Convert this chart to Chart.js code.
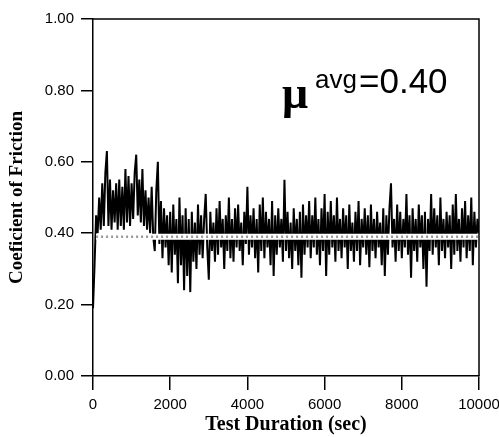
<!DOCTYPE html>
<html>
<head>
<meta charset="utf-8">
<script src="https://cdn.jsdelivr.net/npm/chart.js@4.4.1/dist/chart.umd.min.js"></script>
<style>
  html, body { margin: 0; padding: 0; background: #fff; }
  #frictionChart { display: block; }
</style>
</head>
<body>
<canvas id="frictionChart" width="499" height="437"></canvas>
<script>
// sampled friction trace, one reading every 40 s (0 .. 10000 s)
const sampleInterval = 40;
const frictionValues = [
    0.19, 0.31, 0.45, 0.40, 0.50, 0.41, 0.54, 0.42, 0.57, 0.63,
    0.42, 0.55, 0.41, 0.52, 0.43, 0.54, 0.41, 0.55, 0.42, 0.53,
    0.41, 0.58, 0.43, 0.56, 0.42, 0.54, 0.44, 0.57, 0.62, 0.45,
    0.55, 0.43, 0.58, 0.42, 0.52, 0.41, 0.50, 0.40, 0.53, 0.39,
    0.35, 0.52, 0.60, 0.37, 0.49, 0.33, 0.47, 0.36, 0.45, 0.31,
    0.46, 0.29, 0.48, 0.34, 0.44, 0.26, 0.50, 0.31, 0.45, 0.24,
    0.47, 0.28, 0.44, 0.235, 0.46, 0.32, 0.43, 0.30, 0.48, 0.34,
    0.45, 0.33, 0.44, 0.51, 0.36, 0.27, 0.46, 0.35, 0.43, 0.32,
    0.47, 0.34, 0.49, 0.36, 0.44, 0.30, 0.45, 0.35, 0.50, 0.33,
    0.44, 0.32, 0.47, 0.36, 0.48, 0.35, 0.43, 0.31, 0.46, 0.37,
    0.53, 0.34, 0.45, 0.36, 0.47, 0.33, 0.44, 0.29, 0.48, 0.35,
    0.50, 0.33, 0.46, 0.36, 0.44, 0.31, 0.49, 0.28, 0.45, 0.34,
    0.47, 0.36, 0.44, 0.32, 0.55, 0.35, 0.46, 0.33, 0.43, 0.30,
    0.47, 0.35, 0.44, 0.31, 0.46, 0.275, 0.48, 0.34, 0.45, 0.36,
    0.49, 0.33, 0.45, 0.36, 0.50, 0.34, 0.44, 0.31, 0.47, 0.35,
    0.51, 0.28, 0.46, 0.34, 0.49, 0.36, 0.45, 0.32, 0.50, 0.35,
    0.44, 0.33, 0.47, 0.36, 0.45, 0.30, 0.48, 0.35, 0.43, 0.32,
    0.46, 0.35, 0.49, 0.31, 0.44, 0.36, 0.47, 0.34, 0.45, 0.305,
    0.48, 0.35, 0.44, 0.33, 0.46, 0.36, 0.43, 0.31, 0.47, 0.28,
    0.45, 0.34, 0.47, 0.54, 0.36, 0.44, 0.32, 0.48, 0.35, 0.46,
    0.33, 0.44, 0.36, 0.51, 0.34, 0.45, 0.275, 0.47, 0.35, 0.44,
    0.32, 0.48, 0.36, 0.45, 0.30, 0.46, 0.25, 0.44, 0.35, 0.51,
    0.34, 0.47, 0.36, 0.45, 0.31, 0.50, 0.35, 0.44, 0.33, 0.46,
    0.36, 0.45, 0.30, 0.48, 0.34, 0.51, 0.35, 0.44, 0.32, 0.47,
    0.36, 0.49, 0.33, 0.45, 0.35, 0.50, 0.31, 0.46, 0.36, 0.44,
    0.40
];

// average level band
const avgTimes = [80, 10000];
const avgValues = [0.39, 0.39];

const xTicks = [0, 2000, 4000, 6000, 8000, 10000];
const yTicks = [0.0, 0.2, 0.4, 0.6, 0.8, 1.0];

const frictionPoints = frictionValues.map((v, i) => ({ x: i * sampleInterval, y: v }));
const avgPoints = avgTimes.map((t, i) => ({ x: t, y: avgValues[i] }));

// top + right edges of the plot frame
const frameBox = {
    id: "frameBox",
    afterDatasetsDraw(chart) {
        const { ctx, chartArea: a } = chart;
        ctx.save();
        ctx.strokeStyle = "#000";
        ctx.lineWidth = 1.5;
        ctx.beginPath();
        ctx.moveTo(a.left, a.top);
        ctx.lineTo(a.right, a.top);
        ctx.lineTo(a.right, a.bottom);
        ctx.stroke();
        ctx.restore();
    }
};

// "μavg=0.40" label inside the plot
const avgLabel = {
    id: "avgLabel",
    afterDraw(chart) {
        const { ctx, chartArea: a } = chart;
        const x0 = a.left + 189;
        ctx.save();
        ctx.fillStyle = "#000";
        ctx.textBaseline = "alphabetic";
        ctx.textAlign = "left";
        ctx.font = "bold 46px 'Liberation Serif'";
        ctx.fillText("μ", x0, a.top + 89);
        ctx.font = "26px 'Liberation Sans'";
        ctx.fillText("avg", x0 + 33, a.top + 69);
        ctx.font = "35px 'Liberation Sans'";
        ctx.fillText("=0.40", x0 + 77, a.top + 74);
        ctx.restore();
    }
};

new Chart(document.getElementById("frictionChart"), {
    type: "line",
    data: {
        datasets: [
            {
                data: avgPoints,
                borderColor: "#999",
                borderWidth: 2.5,
                borderDash: [2, 3],
                pointRadius: 0,
                order: 0
            },
            {
                data: avgPoints,
                borderColor: "#fff",
                borderWidth: 6,
                pointRadius: 0,
                order: 1
            },
            {
                data: frictionPoints,
                borderColor: "#000",
                borderWidth: 2,
                pointRadius: 0,
                tension: 0,
                order: 2
            }
        ]
    },
    options: {
        responsive: false,
        animation: false,
        layout: { padding: { left: 0, right: 20, top: 19, bottom: 0 } },
        plugins: { legend: { display: false }, tooltip: { enabled: false } },
        scales: {
            x: {
                type: "linear",
                min: 0,
                max: 10000,
                afterBuildTicks: s => { s.ticks = xTicks.map(v => ({ value: v })); },
                afterFit: s => { s.height = 61; s.paddingLeft = 0; s.paddingRight = 0; },
                grid: { drawOnChartArea: false, color: "#000", lineWidth: 1.5, tickLength: 14 },
                border: { color: "#000", width: 1.5 },
                ticks: {
                    color: "#000",
                    padding: 6,
                    maxRotation: 0,
                    font: { family: "'Liberation Sans'", size: 15 },
                    callback: v => String(v)
                },
                title: {
                    display: true,
                    text: "Test Duration (sec)",
                    color: "#000",
                    font: { family: "'Liberation Serif'", size: 20, weight: "bold" },
                    padding: { top: 0, bottom: 0 }
                }
            },
            y: {
                min: 0,
                max: 1,
                afterBuildTicks: s => { s.ticks = yTicks.map(v => ({ value: v })); },
                afterFit: s => { s.width = 93; },
                grid: { drawOnChartArea: false, color: "#000", lineWidth: 1.5, tickLength: 12 },
                border: { color: "#000", width: 1.5 },
                ticks: {
                    color: "#000",
                    padding: 7,
                    font: { family: "'Liberation Sans'", size: 15 },
                    callback: v => Number(v).toFixed(2)
                },
                title: {
                    display: true,
                    text: "Coeficient of Friction",
                    color: "#000",
                    font: { family: "'Liberation Serif'", size: 19, weight: "bold" },
                    padding: { top: 6, bottom: 0 }
                }
            }
        }
    },
    plugins: [frameBox, avgLabel]
});
</script>
</body>
</html>
